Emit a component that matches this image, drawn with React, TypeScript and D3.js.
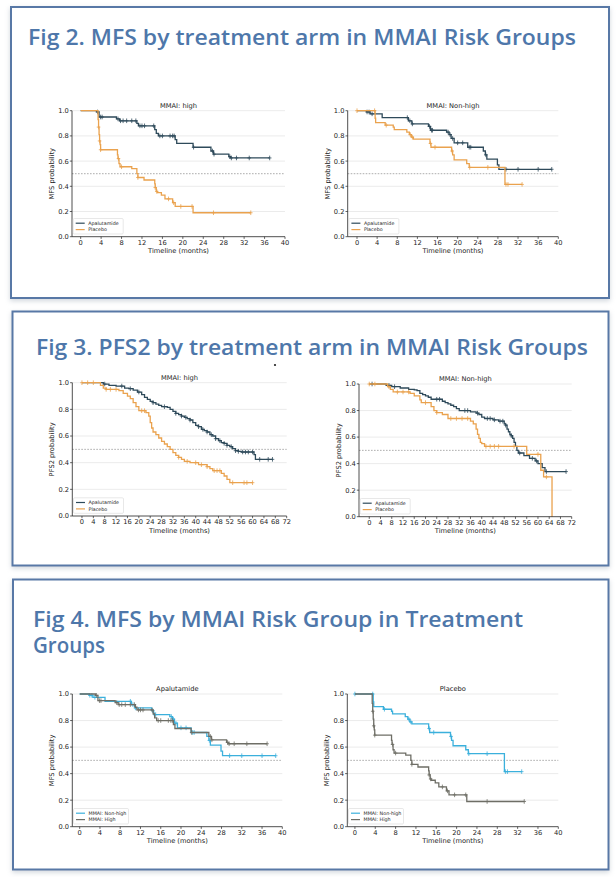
import React from "react";
import * as d3 from "d3";

// ---------------- DATA ----------------
// MFS, MMAI high, Apalutamide
const mfsApaHighT = [0, 3.1, 3.6, 7.0, 7.6, 11.0, 11.3, 14.5, 14.8, 15.2, 18.5, 18.8, 22.0, 25.5, 26.0, 29.0, 29.3];
const mfsApaHighS = [1, 0.99, 0.95, 0.935, 0.92, 0.9, 0.88, 0.85, 0.82, 0.8, 0.77, 0.74, 0.71, 0.68, 0.655, 0.635, 0.625];
const mfsApaHighEnd = 37;
const mfsApaHighCens = [3.3, 3.9, 4.2, 7.3, 7.8, 8.3, 9.0, 10.0, 10.8, 11.6, 12.0, 12.5, 14.3, 15.5, 16.0, 17.5, 18.0, 18.3, 22.1, 25.8, 26.1, 29.2, 29.5, 30.5, 33, 37];

// MFS, MMAI high, Placebo
const mfsPboHighT = [0, 3.4, 3.5, 3.6, 3.7, 3.8, 3.9, 7.2, 7.3, 7.5, 7.7, 10.0, 11.0, 11.2, 12.4, 14.5, 14.6, 14.8, 15.0, 15.8, 16.5, 18.0, 18.5, 22.0];
const mfsPboHighS = [1, 0.93, 0.87, 0.81, 0.76, 0.73, 0.69, 0.65, 0.62, 0.58, 0.555, 0.54, 0.5, 0.47, 0.45, 0.42, 0.39, 0.36, 0.35, 0.33, 0.3, 0.27, 0.24, 0.19];
const mfsPboHighEnd = 33.3;
const mfsPboHighCens = [3.5, 3.7, 3.9, 7.4, 8.0, 11.2, 14.6, 14.9, 17.2, 18.2, 19.6, 21.8, 26.0, 33.3];

// MFS, MMAI non-high, Apalutamide
const mfsApaNonT = [0, 1.9, 2.6, 5.0, 10.2, 10.9, 14.2, 14.6, 17.8, 18.3, 18.7, 19.3, 22.0, 25.1, 25.5, 25.8, 27.9, 28.2];
const mfsApaNonS = [1, 0.99, 0.975, 0.945, 0.92, 0.895, 0.875, 0.845, 0.83, 0.81, 0.78, 0.745, 0.71, 0.68, 0.65, 0.615, 0.57, 0.535];
const mfsApaNonEnd = 38.7;
const mfsApaNonCens = [2.0, 2.4, 3.0, 10.0, 10.5, 11.0, 14.4, 14.8, 15.0, 18.1, 18.5, 19.0, 20.0, 21.0, 22.3, 22.6, 25.6, 29.6, 32.0, 36.0, 38.7];

// MFS, MMAI non-high, Placebo
const mfsPboNonT = [0, 3.6, 3.7, 5.6, 7.2, 7.4, 9.9, 10.4, 10.8, 11.2, 14.5, 14.7, 18.8, 19.0, 19.3, 21.8, 22.3, 29.4];
const mfsPboNonS = [1, 0.94, 0.905, 0.885, 0.87, 0.85, 0.83, 0.81, 0.79, 0.775, 0.74, 0.71, 0.68, 0.65, 0.61, 0.58, 0.55, 0.415];
const mfsPboNonEnd = 32.8;
const mfsPboNonCens = [0, 3.5, 5.8, 10.6, 11.0, 14.6, 15.5, 18.9, 22.4, 26.0, 29.6, 30.0, 32.8];

// PFS2, MMAI high, Apalutamide
const pfsApaHighT = [0, 7.5, 9.5, 12, 15, 16.5, 18, 19.5, 21, 22, 23, 24, 25, 26, 27, 28, 30, 31, 32, 33, 34, 35, 36, 37, 38, 39, 40, 41, 42, 43, 44, 45, 46, 47, 48, 49, 50, 51, 52, 53, 54, 55, 56, 60.5, 61];
const pfsApaHighS = [1, 0.99, 0.98, 0.975, 0.96, 0.955, 0.945, 0.93, 0.91, 0.89, 0.875, 0.86, 0.85, 0.84, 0.83, 0.82, 0.815, 0.8, 0.785, 0.77, 0.76, 0.75, 0.74, 0.73, 0.72, 0.7, 0.68, 0.67, 0.65, 0.64, 0.63, 0.61, 0.6, 0.58, 0.565, 0.55, 0.545, 0.53, 0.52, 0.505, 0.49, 0.485, 0.48, 0.46, 0.425];
const pfsApaHighEnd = 67;
const pfsApaHighCens = [8, 14, 17, 20, 25, 29, 33, 35, 36.5, 38, 41, 42.5, 44, 45.5, 47, 48.5, 50, 51, 52.5, 54, 55, 56.5, 57.5, 58.5, 60, 62.5, 65.5, 67];

// PFS2, MMAI high, Placebo
const pfsPboHighT = [0, 6.5, 7.5, 8.5, 13, 14.5, 16, 17, 18, 19, 20, 22.5, 23.5, 24, 24.5, 25, 26, 27, 28, 29, 30, 31, 32, 33, 34, 35, 36, 38, 41, 44, 45, 46, 49, 50, 51, 52];
const pfsPboHighS = [1, 0.98, 0.96, 0.95, 0.94, 0.92, 0.9, 0.88, 0.85, 0.82, 0.79, 0.775, 0.75, 0.7, 0.66, 0.63, 0.61, 0.585, 0.56, 0.54, 0.52, 0.5, 0.475, 0.455, 0.44, 0.425, 0.41, 0.4, 0.385, 0.37, 0.355, 0.34, 0.32, 0.3, 0.275, 0.25];
const pfsPboHighEnd = 60;
const pfsPboHighCens = [0, 2, 4, 8.5, 10, 12, 21, 22, 34, 37, 40, 42, 44, 46.5, 47.5, 48.5, 53, 57, 58, 60];

// PFS2, MMAI non-high, Apalutamide
const pfsApaNonT = [0, 6, 8, 11, 14, 16, 17, 18, 19, 20, 21, 22, 26, 27, 28, 29, 30, 31, 32, 36, 38, 39, 40, 41, 44, 46, 48, 48.5, 49, 49.5, 50, 50.5, 51, 51.5, 52, 52.5, 53, 55, 57, 59, 60, 61.5, 62.5];
const pfsApaNonS = [1, 0.99, 0.98, 0.97, 0.96, 0.955, 0.95, 0.93, 0.92, 0.91, 0.9, 0.885, 0.87, 0.86, 0.85, 0.84, 0.83, 0.815, 0.8, 0.79, 0.78, 0.77, 0.75, 0.74, 0.73, 0.72, 0.7, 0.69, 0.66, 0.64, 0.62, 0.61, 0.59, 0.56, 0.53, 0.5, 0.48, 0.46, 0.44, 0.42, 0.4, 0.37, 0.34];
const pfsApaNonEnd = 70;
const pfsApaNonCens = [1, 7, 9, 24, 25, 34, 35, 38.5, 42, 43, 44.5, 46.5, 47.5, 48.5, 50.5, 53.5, 58, 59.5, 63, 70];

// PFS2, MMAI non-high, Placebo
const pfsPboNonT = [0, 6.5, 7.5, 8.5, 14.5, 16, 18, 18.5, 22, 23, 24, 26, 28, 36, 37, 38, 38.5, 39, 39.5, 40, 41, 56, 61, 62, 65];
const pfsPboNonS = [1, 0.98, 0.96, 0.94, 0.93, 0.91, 0.88, 0.86, 0.83, 0.8, 0.785, 0.77, 0.74, 0.72, 0.7, 0.66, 0.62, 0.59, 0.56, 0.55, 0.53, 0.47, 0.35, 0.3, 0.0];
const pfsPboNonEnd = 65;
const pfsPboNonCens = [0, 2, 7, 10, 12, 14, 20, 24, 29, 31, 33, 35, 41.5, 43, 44.5, 46, 51.5, 60, 63];

const yTicks = [0, 0.2, 0.4, 0.6, 0.8, 1.0];
const xTicks40 = d3.range(0, 41, 4);
const xTicks72 = d3.range(0, 73, 4);

const figTitles = [
  "Fig 2. MFS by treatment arm in MMAI Risk Groups",
  "Fig 3. PFS2 by treatment arm in MMAI Risk Groups",
];
const fig4Title = ["Fig 4. MFS by MMAI Risk Group in Treatment", "Groups"];

// ---------------- STYLE ----------------
const C_APA = "#2e4a5a";
const C_PBO = "#eaa24e";
const C_NON = "#3bb0dc";
const C_HIGH = "#6e6e66";
const BLUE = "#4e77aa";
const FONT = "'DejaVu Sans', sans-serif";
const TITLE_FONT = "'Open Sans', 'Lato', sans-serif";

type Series = { t: number[]; s: number[]; end: number; cens: number[]; color: string; label: string };
type PanelCfg = {
  title: string; ylabel: string; xDomain: [number, number]; xRange: [number, number];
  yTop: number; yBot: number; xTicks: number[]; series: Series[]; legendW: number;
};

function survAt(t: number[], s: number[], x: number) {
  let v = s[0];
  for (let i = 0; i < t.length; i++) if (t[i] <= x) v = s[i];
  return v;
}

function Panel({ cfg }: { cfg: PanelCfg }) {
  const x = d3.scaleLinear().domain(cfg.xDomain).range(cfg.xRange);
  const y = d3.scaleLinear().domain([0, 1]).range([cfg.yBot, cfg.yTop]);
  const line = d3.line<[number, number]>().x((d) => x(d[0])).y((d) => y(d[1])).curve(d3.curveStepAfter);
  const x0 = cfg.xRange[0];
  const x1 = cfg.xRange[1];
  const fs = 6.7;
  const legH = 15.5;
  const legY = cfg.yBot - 2.7 - legH;
  const legX = x0 + 1.2;
  return (
    <g>
      {yTicks.filter((v) => v > 0).map((v) => (
        <line key={"g" + v} x1={x0} x2={x1} y1={y(v)} y2={y(v)} stroke="#e6e6e6" strokeWidth={0.8} />
      ))}
      <line x1={x0} x2={x1} y1={y(0.5)} y2={y(0.5)} stroke="#8a8a8a" strokeWidth={0.7} strokeDasharray="1.6,1.4" />
      {cfg.series.map((se, i) => {
        const pts: [number, number][] = se.t.map((tt, j) => [tt, se.s[j]] as [number, number]);
        pts.push([se.end, se.s[se.s.length - 1]]);
        return (
          <g key={i}>
            <path d={line(pts) || ""} fill="none" stroke={se.color} strokeWidth={1.3} />
            {se.cens.map((c, k) => {
              const cx = x(c);
              const cy = y(survAt(se.t, se.s, c));
              return (
                <g key={k} stroke={se.color} strokeWidth={0.8}>
                  <line x1={cx} x2={cx} y1={cy - 2.3} y2={cy + 2.3} />
                  <line x1={cx - 1.8} x2={cx + 1.8} y1={cy} y2={cy} />
                </g>
              );
            })}
          </g>
        );
      })}
      {/* axes */}
      <line x1={x0} x2={x0} y1={cfg.yBot} y2={cfg.yTop} stroke="#222" strokeWidth={0.8} />
      <line x1={x0} x2={x1} y1={cfg.yBot} y2={cfg.yBot} stroke="#222" strokeWidth={0.8} />
      {yTicks.map((v) => (
        <g key={"yt" + v}>
          <line x1={x0 - 2.2} x2={x0} y1={y(v)} y2={y(v)} stroke="#222" strokeWidth={0.7} />
          <text x={x0 - 3.2} y={y(v) + 2.4} fontSize={fs} textAnchor="end" fontFamily={FONT} fill="#222">
            {d3.format(".1f")(v)}
          </text>
        </g>
      ))}
      {cfg.xTicks.map((v) => (
        <g key={"xt" + v}>
          <line x1={x(v)} x2={x(v)} y1={cfg.yBot} y2={cfg.yBot + 2.2} stroke="#222" strokeWidth={0.7} />
          <text x={x(v)} y={cfg.yBot + 7.9} fontSize={fs} textAnchor="middle" fontFamily={FONT} fill="#222">
            {v}
          </text>
        </g>
      ))}
      <text x={(x0 + x1) / 2} y={cfg.yBot + 16.5} fontSize={fs} textAnchor="middle" fontFamily={FONT} fill="#222">
        Timeline (months)
      </text>
      <text
        transform={`translate(${x0 - 18},${(cfg.yTop + cfg.yBot) / 2}) rotate(-90)`}
        fontSize={fs} textAnchor="middle" fontFamily={FONT} fill="#222"
      >
        {cfg.ylabel}
      </text>
      <text x={(x0 + x1) / 2} y={cfg.yTop - 2.8} fontSize={fs} textAnchor="middle" fontFamily={FONT} fill="#222">
        {cfg.title}
      </text>
      {/* legend */}
      <rect x={legX} y={legY} width={cfg.legendW} height={legH} rx={1.2} fill="#fff" fillOpacity={0.85} stroke="#d8d8d8" strokeWidth={0.6} />
      {cfg.series.map((se, i) => (
        <g key={"lg" + i}>
          <line x1={legX + 2.5} x2={legX + 11.5} y1={legY + 4.7 + i * 6.4} y2={legY + 4.7 + i * 6.4} stroke={se.color} strokeWidth={1.2} />
          <text x={legX + 15} y={legY + 6.4 + i * 6.4} fontSize={4.8} fontFamily={FONT} fill="#222">
            {se.label}
          </text>
        </g>
      ))}
    </g>
  );
}

export default function App() {
  const apaHigh = { t: mfsApaHighT, s: mfsApaHighS, end: mfsApaHighEnd, cens: mfsApaHighCens };
  const pboHigh = { t: mfsPboHighT, s: mfsPboHighS, end: mfsPboHighEnd, cens: mfsPboHighCens };
  const apaNon = { t: mfsApaNonT, s: mfsApaNonS, end: mfsApaNonEnd, cens: mfsApaNonCens };
  const pboNon = { t: mfsPboNonT, s: mfsPboNonS, end: mfsPboNonEnd, cens: mfsPboNonCens };

  const panels: PanelCfg[] = [
    {
      title: "MMAI: high", ylabel: "MFS probability", xDomain: [-1.7, 40], xRange: [72, 285],
      yTop: 110.7, yBot: 236.7, xTicks: xTicks40, legendW: 50,
      series: [
        { ...apaHigh, color: C_APA, label: "Apalutamide" },
        { ...pboHigh, color: C_PBO, label: "Placebo" },
      ],
    },
    {
      title: "MMAI: Non-high", ylabel: "MFS probability", xDomain: [-1.85, 40], xRange: [347.7, 558.3],
      yTop: 110.7, yBot: 236.7, xTicks: xTicks40, legendW: 50,
      series: [
        { ...apaNon, color: C_APA, label: "Apalutamide" },
        { ...pboNon, color: C_PBO, label: "Placebo" },
      ],
    },
    {
      title: "MMAI: high", ylabel: "PFS2 probability", xDomain: [-3.4, 72], xRange: [72.3, 286.7],
      yTop: 382.7, yBot: 516, xTicks: xTicks72, legendW: 50,
      series: [
        { t: pfsApaHighT, s: pfsApaHighS, end: pfsApaHighEnd, cens: pfsApaHighCens, color: C_APA, label: "Apalutamide" },
        { t: pfsPboHighT, s: pfsPboHighS, end: pfsPboHighEnd, cens: pfsPboHighCens, color: C_PBO, label: "Placebo" },
      ],
    },
    {
      title: "MMAI: Non-high", ylabel: "PFS2 probability", xDomain: [-3.65, 72], xRange: [359, 571.7],
      yTop: 384, yBot: 516.7, xTicks: xTicks72, legendW: 50,
      series: [
        { t: pfsApaNonT, s: pfsApaNonS, end: pfsApaNonEnd, cens: pfsApaNonCens, color: C_APA, label: "Apalutamide" },
        { t: pfsPboNonT, s: pfsPboNonS, end: pfsPboNonEnd, cens: pfsPboNonCens, color: C_PBO, label: "Placebo" },
      ],
    },
    {
      title: "Apalutamide", ylabel: "MFS probability", xDomain: [-1.46, 40], xRange: [72.3, 282.3],
      yTop: 694, yBot: 826.7, xTicks: xTicks40, legendW: 55,
      series: [
        { ...apaNon, color: C_NON, label: "MMAI: Non-high" },
        { ...apaHigh, color: C_HIGH, label: "MMAI: High" },
      ],
    },
    {
      title: "Placebo", ylabel: "MFS probability", xDomain: [-1.5, 40], xRange: [347.3, 558.3],
      yTop: 694, yBot: 826.7, xTicks: xTicks40, legendW: 55,
      series: [
        { ...pboNon, color: C_NON, label: "MMAI: Non-high" },
        { ...pboHigh, color: C_HIGH, label: "MMAI: High" },
      ],
    },
  ];

  const boxes = [
    { x: 11, y: 7, w: 598, h: 291 },
    { x: 12.5, y: 311.5, w: 596, h: 254 },
    { x: 13, y: 579.5, w: 595.5, h: 290 },
  ];

  return (
    <svg width={616} height={877} style={{ position: "absolute", left: 0, top: 0, background: "#fff" }}>
      <defs>
        <filter id="sh" x="-5%" y="-5%" width="110%" height="115%">
          <feDropShadow dx="0" dy="2" stdDeviation="2.5" floodColor="#9aa6b4" floodOpacity="0.45" />
        </filter>
      </defs>
      <rect x={0} y={0} width={616} height={877} fill="#fff" />
      {boxes.map((b, i) => (
        <rect key={i} x={b.x} y={b.y} width={b.w} height={b.h} fill="#fff" stroke="#5878a6" strokeWidth={2} filter="url(#sh)" />
      ))}
      <text x={28} y={45} fontSize={21} fontFamily={TITLE_FONT} fontWeight={600} fill={BLUE} textLength={548} lengthAdjust="spacingAndGlyphs">
        {figTitles[0]}
      </text>
      <text x={36} y={355} fontSize={21} fontFamily={TITLE_FONT} fontWeight={600} fill={BLUE} textLength={552} lengthAdjust="spacingAndGlyphs">
        {figTitles[1]}
      </text>
      <circle cx={275} cy={365} r={1.1} fill="#222" />
      <text x={33} y={627} fontSize={21} fontFamily={TITLE_FONT} fontWeight={600} fill={BLUE} textLength={490} lengthAdjust="spacingAndGlyphs">
        {fig4Title[0]}
      </text>
      <text x={33} y={653} fontSize={21} fontFamily={TITLE_FONT} fontWeight={600} fill={BLUE} textLength={72} lengthAdjust="spacingAndGlyphs">
        {fig4Title[1]}
      </text>
      {panels.map((p, i) => (
        <Panel key={i} cfg={p} />
      ))}
    </svg>
  );
}
